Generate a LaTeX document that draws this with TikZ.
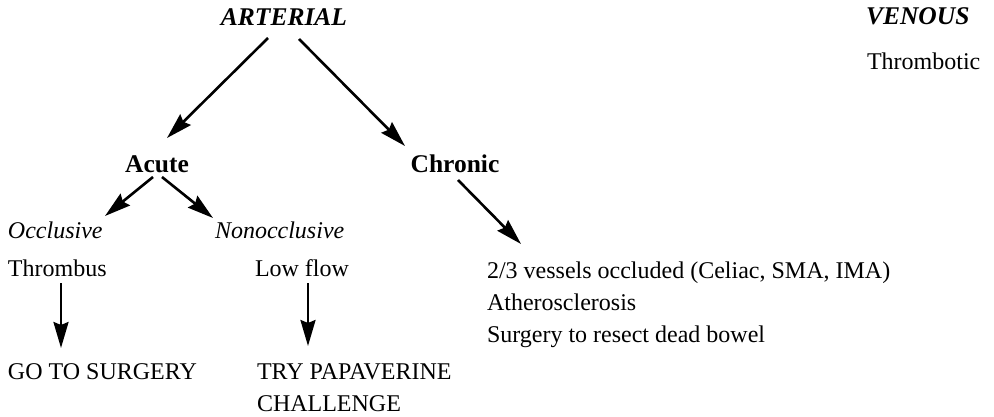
\documentclass[tikz,border=0pt]{standalone}
\usepackage{fontspec}
\setmainfont{Liberation Serif}
\usetikzlibrary{arrows.meta}
\begin{document}
\begin{tikzpicture}[x=1pt,y=-1pt,
  txt/.style={inner sep=0pt,outer sep=0pt,font=\fontsize{24}{27.5}\selectfont},
  head/.style={txt,font=\fontsize{25.5}{28}\selectfont\bfseries\itshape},
  sub/.style={txt,font=\fontsize{25.5}{28}\selectfont\bfseries},
  kind/.style={txt,font=\fontsize{24}{27.5}\selectfont\itshape},
  block/.style={txt,align=left,font=\fontsize{24}{32}\selectfont},
  arr/.style={line width=2.6pt,-{Stealth[length=26pt,width=15pt,inset=3pt]}}]
\useasboundingbox (0,0) rectangle (994,417);

% headings
\node[head,anchor=base] (art) at (284,26) {ARTERIAL};
\node[head,anchor=base west] (ven) at (866,25) {VENOUS};
\node[txt,anchor=base west] (thr) at (867,70) {Thrombotic};

% second level
\node[sub,anchor=base] (acute) at (157,173) {Acute};
\node[sub,anchor=base] (chronic) at (455,173) {Chronic};

% acute branches
\node[kind,anchor=base west] (occ) at (8,238) {Occlusive};
\node[kind,anchor=base west] (nonocc) at (215,238) {Nonocclusive};
\node[txt,anchor=base west] (thrombus) at (8,276) {Thrombus};
\node[txt,anchor=base west] (lowflow) at (255,276) {Low flow};
\node[txt,anchor=base west] (surg) at (8,379) {GO TO SURGERY};
% multi-line nodes: the base anchor sits on the last line
\node[block,anchor=base west] (papa) at (257,411)
  {TRY PAPAVERINE\\CHALLENGE};

% chronic details
\node[block,anchor=base west] (vessels) at (487,342)
  {2/3 vessels occluded (Celiac, SMA, IMA)\\Atherosclerosis\\Surgery to resect dead bowel};

% arrow end points
\coordinate (artL) at (268,38);
\coordinate (artR) at (299,39);
\coordinate (acuteIn) at (167,138);
\coordinate (chronicIn) at (405,146);
\coordinate (acuteL) at (153,177);
\coordinate (acuteR) at (162,177);
\coordinate (occIn) at (105,216);
\coordinate (nonoccIn) at (213,218);
\coordinate (chronicOut) at (458,180);
\coordinate (vesselsIn) at (521,244);
\coordinate (thrombusOut) at (61,283);
\coordinate (surgIn) at (61,348);
\coordinate (lowflowOut) at (308,283);
\coordinate (papaIn) at (308,346);

\draw[arr] (artL) -- (acuteIn);
\draw[arr] (artR) -- (chronicIn);
\draw[arr] (acuteL) -- (occIn);
\draw[arr] (acuteR) -- (nonoccIn);
\draw[arr] (chronicOut) -- (vesselsIn);
\draw[arr] (thrombusOut) -- (surgIn);
\draw[arr] (lowflowOut) -- (papaIn);
\end{tikzpicture}
\end{document}
